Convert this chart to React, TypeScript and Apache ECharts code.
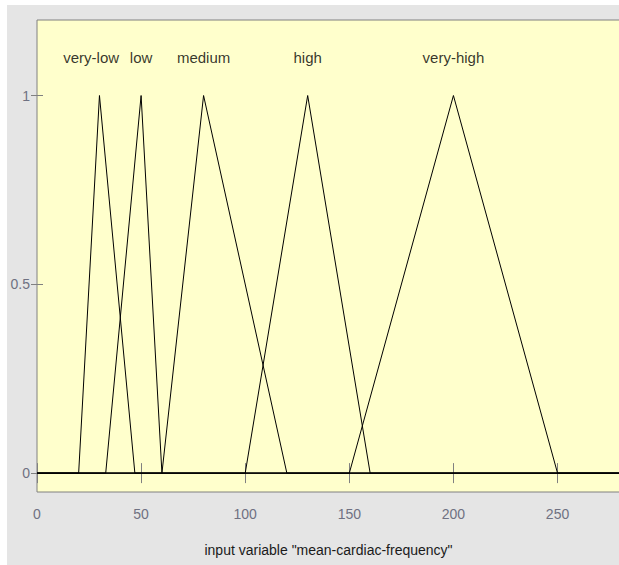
import React, { useEffect, useRef } from "react";
import * as echarts from "echarts";

const X_MIN = 0;
const X_MAX = 280;
const xTickValues = [0, 50, 100, 150, 200, 250];
const yTickValues = [0, 0.5, 1];

const mfNames = ["very-low", "low", "medium", "high", "very-high"];
// triangular membership function parameters [a, b, c]
const mfParams: number[][] = [
  [20, 30, 47],
  [33, 50, 60],
  [60, 80, 120],
  [100, 130, 160],
  [150, 200, 250],
];
const labelX = [26, 50, 80, 130, 200];
const labelY = 1.1;

const FONT = "'Liberation Sans', Arial, sans-serif";

export default function App() {
  const ref = useRef<HTMLDivElement>(null);
  useEffect(() => {
    if (!ref.current) return;
    const chart = echarts.init(ref.current, undefined, { renderer: "svg" });
    const lineSeries = mfParams.map((p, i) => ({
      type: "line",
      name: mfNames[i],
      data: [
        [X_MIN, 0],
        [p[0], 0],
        [p[1], 1],
        [p[2], 0],
        [X_MAX, 0],
      ],
      symbol: "none",
      lineStyle: { color: "#000", width: 1 },
      silent: true,
    }));
    const labelSeries = {
      type: "scatter",
      data: labelX.map((x, i) => ({ value: [x, labelY], name: mfNames[i] })),
      symbolSize: 1,
      itemStyle: { color: "rgba(0,0,0,0)" },
      label: {
        show: true,
        formatter: "{b}",
        position: "inside",
        color: "#000",
        fontSize: 15,
        fontFamily: FONT,
      },
      silent: true,
    };
    chart.setOption({
      animation: false,
      backgroundColor: "#e5e5e5",
      grid: {
        left: 30,
        top: 15,
        width: 583,
        height: 472,
        show: true,
        backgroundColor: "#ffffcc",
        borderColor: "#808080",
        borderWidth: 1,
      },
      xAxis: [
        {
          type: "value",
          min: X_MIN,
          max: X_MAX,
          position: "bottom",
          axisLine: { show: false },
          axisTick: {
            show: true,
            inside: true,
            length: 10,
            customValues: xTickValues,
            lineStyle: { color: "#808080" },
          },
          axisLabel: {
            customValues: xTickValues,
            color: "#6f7182",
            fontSize: 14,
            fontFamily: FONT,
            margin: 15,
          },
          splitLine: { show: false },
          name: 'input variable "mean-cardiac-frequency"',
          nameLocation: "middle",
          nameGap: 51,
          nameTextStyle: { color: "#1a1a1a", fontSize: 14, fontFamily: FONT },
        },
        {
          type: "value",
          min: X_MIN,
          max: X_MAX,
          position: "top",
          axisLine: { show: false },
          axisTick: {
            show: true,
            inside: true,
            length: 10,
            customValues: xTickValues,
            lineStyle: { color: "#808080" },
          },
          axisLabel: { show: false },
          splitLine: { show: false },
        },
      ],
      yAxis: [
        {
          type: "value",
          min: -0.05,
          max: 1.2,
          position: "left",
          axisLine: { show: false },
          axisTick: {
            show: true,
            inside: true,
            length: 6,
            customValues: yTickValues,
            lineStyle: { color: "#808080" },
          },
          axisLabel: {
            customValues: yTickValues,
            color: "#6f7182",
            fontSize: 14,
            fontFamily: FONT,
            margin: 7,
          },
          splitLine: { show: false },
        },
        {
          type: "value",
          min: -0.05,
          max: 1.2,
          position: "right",
          axisLine: { show: false },
          axisTick: {
            show: true,
            inside: true,
            length: 6,
            customValues: yTickValues,
            lineStyle: { color: "#808080" },
          },
          axisLabel: { show: false },
          splitLine: { show: false },
        },
      ],
      series: [...lineSeries, labelSeries],
    });
    return () => chart.dispose();
  }, []);
  return (
    <div
      ref={ref}
      style={{ position: "fixed", left: 7, top: 5, width: 620, height: 560 }}
    />
  );
}
